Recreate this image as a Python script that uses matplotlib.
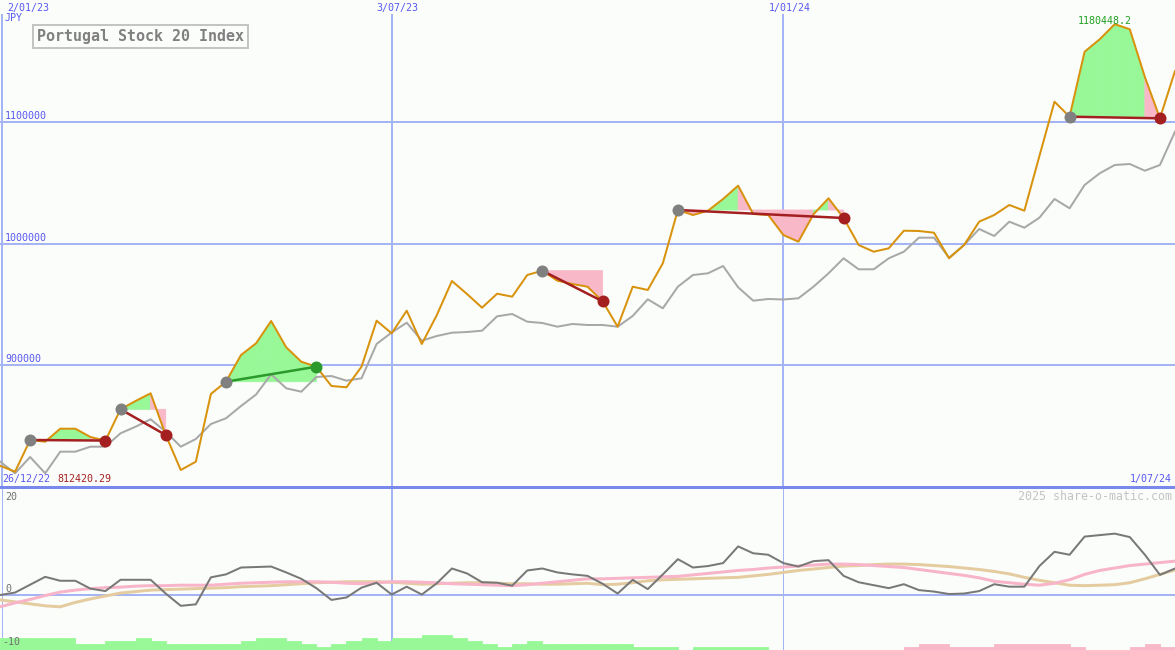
import matplotlib
matplotlib.use("Agg")
import matplotlib.pyplot as plt
from matplotlib.lines import Line2D
from matplotlib.patches import Rectangle

# weekly points, 0 = 2/01/23
weeks = list(range(79))
index_close = [
    817340, 812420.29, 838480, 837080, 847770, 847770, 840940, 838000, 863720, 870550,
    876880, 842590, 813800, 820630, 876310, 886420, 908380, 918000, 936340, 914710,
    902870, 898760, 882890, 881820, 898760, 936590, 926230, 944810, 917430, 941280,
    969240, 958550, 947280, 958790, 956330, 974170, 977710, 969490, 966770, 964550,
    952540, 931660, 964550, 961840, 983800, 1027630, 1023520, 1027050, 1036680, 1047610,
    1024340, 1023520, 1007070, 1001560, 1024090, 1037250, 1021050, 998840, 993330, 996130,
    1010600, 1010360, 1008960, 987910, 998840, 1018010, 1023520, 1031740, 1027050, 1072040,
    1116690, 1104360, 1157810, 1168010, 1180448.2, 1176240, 1137010, 1103040, 1141940]
moving_avg = [
    820790, 811090, 824500, 811090, 828860, 828860, 832970, 832970, 843990, 849410,
    855500, 845300, 832970, 839300, 851640, 856320, 866440, 875900, 892510, 881000,
    878200, 890290, 891110, 887250, 889220, 917430, 926890, 934940, 920140, 924010,
    926720, 927300, 928360, 940210, 942100, 935770, 934700, 931660, 933880, 933050,
    933050, 931660, 940450, 954190, 946790, 964550, 974170, 975570, 981570, 964060,
    953040, 954440, 954020, 955010, 964550, 975570, 987910, 978860, 978860, 987910,
    993330, 1004850, 1004850, 988400, 998840, 1012000, 1006250, 1018010, 1013070, 1021300,
    1036680, 1029030, 1048190, 1057810, 1064640, 1065460, 1059950, 1064640, 1092020]
momentum = [
    0, 0.5, 2.1, 3.7, 2.9, 2.9, 1.3, 0.8, 3.1, 3.1,
    3.1, 0.3, -2.2, -1.9, 3.6, 4.2, 5.6, 5.7, 5.8, 4.6,
    3.3, 1.4, -1.0, -0.5, 1.5, 2.5, 0.1, 1.7, 0.1, 2.4,
    5.4, 4.4, 2.6, 2.5, 1.9, 5.0, 5.4, 4.6, 4.2, 3.9,
    2.3, 0.3, 3.1, 1.2, 4.2, 7.3, 5.6, 5.9, 6.5, 9.9,
    8.5, 8.2, 6.5, 5.8, 6.9, 7.1, 3.9, 2.6, 2.0, 1.4,
    2.2, 1.0, 0.7, 0.2, 0.3, 0.8, 2.2, 1.7, 1.7, 5.9,
    8.8, 8.2, 11.9, 12.2, 12.5, 11.8, 8.2, 4.1, 5.4]
signal_fast = [
    -2.4, -1.6, -0.9, -0.1, 0.6, 1.0, 1.3, 1.5, 1.6, 1.8,
    1.9, 1.9, 2.0, 2.0, 2.0, 2.2, 2.4, 2.5, 2.6, 2.7,
    2.7, 2.7, 2.6, 2.4, 2.3, 2.5, 2.7, 2.7, 2.6, 2.5,
    2.3, 2.2, 2.1, 2.0, 1.9, 2.1, 2.4, 2.7, 3.0, 3.3,
    3.3, 3.4, 3.5, 3.6, 3.7, 3.8, 4.1, 4.4, 4.7, 5.0,
    5.2, 5.5, 5.7, 5.9, 6.1, 6.3, 6.3, 6.2, 6.0, 5.8,
    5.6, 5.2, 4.8, 4.4, 4.0, 3.5, 2.8, 2.5, 2.2, 2.0,
    2.4, 3.1, 4.2, 5.0, 5.5, 6.0, 6.3, 6.6, 6.9]
signal_slow = [
    -1.0, -1.4, -1.8, -2.2, -2.4, -1.5, -0.8, -0.2, 0.4, 0.7,
    1.0, 1.1, 1.2, 1.3, 1.4, 1.5, 1.7, 1.8, 1.9, 2.1,
    2.3, 2.5, 2.6, 2.7, 2.7, 2.7, 2.6, 2.4, 2.2, 2.3,
    2.4, 2.5, 2.5, 2.4, 2.3, 2.3, 2.2, 2.2, 2.3, 2.4,
    2.1, 2.2, 2.5, 2.9, 3.1, 3.2, 3.3, 3.4, 3.5, 3.6,
    3.9, 4.2, 4.6, 5.0, 5.3, 5.6, 5.9, 6.0, 6.2, 6.3,
    6.3, 6.2, 6.0, 5.8, 5.5, 5.2, 4.8, 4.3, 3.6, 3.0,
    2.5, 2.0, 1.9, 2.0, 2.1, 2.5, 3.3, 4.2, 5.1]
# one bar per week interval, sign = colour
volume_bars = [4, 4, 4, 4, 4, 2, 2, 3, 3, 4, 3, 2, 2, 2, 2, 2, 3, 4, 4, 3,
               2, 1, 2, 3, 4, 3, 4, 4, 5, 5, 4, 3, 2, 1, 2, 3, 2, 2, 2, 2,
               2, 2, 1, 1, 1, 0, 1, 1, 1, 1, 1, 0, 0, 0, 0, 0, 0, 0, 0, 0,
               -1, -2, -2, -1, -1, -1, -2, -2, -2, -2, -2, -1, 0, 0, 0, -1, -2, -1]
trades = [(2, 7), (8, 11), (15, 21), (36, 40), (45, 56), (71, 77)]
date_ticks = [0, 26, 52]
date_labels = ["2/01/23", "3/07/23", "1/01/24"]
price_levels = [900000, 1000000, 1100000]
start_label, end_label = "26/12/22", "1/07/24"

BG = '#fbfdfa'
GRID = '#a4b4f4'
BLUE_TXT = '#5858f0'
PX = 0.72  # one pixel in points

fig = plt.figure(figsize=(11.75, 6.5), dpi=100, facecolor=BG)
ax = fig.add_axes([0, 163 / 650, 1, 487 / 650])
ax2 = fig.add_axes([0, 0, 1, 163 / 650])
for a in (ax, ax2):
    a.set_facecolor(BG)
    a.axis('off')
    a.set_xlim(0, 78)

ax.set_ylim(799820, 1200330)
ax2.set_ylim(-11.2, 22.0)

# grid
for lvl in price_levels:
    ax.axhline(lvl, color=GRID, lw=2 * PX, zorder=1)
for t in date_ticks[1:]:
    ax.axvline(t, ymax=0.969, color=GRID, lw=2 * PX, zorder=1)
ax.axvline(0.13, ymax=0.969, color=GRID, lw=2 * PX, zorder=1)

# trade fills
for a_i, b_i in trades:
    level = index_close[a_i]
    for k in range(a_i, b_i):
        col = '#98f898' if index_close[k + 1] >= level else '#f8b8c8'
        ax.fill([k, k, k + 1, k + 1],
                [level, index_close[k], index_close[k + 1], level],
                facecolor=col, edgecolor=col, lw=0.6, zorder=2)

ax.plot(weeks, moving_avg, color='#a8a8a8', lw=2 * PX, zorder=3)
ax.plot(weeks, index_close, color='#d8920c', lw=2 * PX, zorder=4)

for a_i, b_i in trades:
    win = index_close[b_i] > index_close[a_i]
    col = '#2a9a2a' if win else '#a42020'
    ax.plot([a_i, b_i], [index_close[a_i], index_close[b_i]], color=col, lw=2.5 * PX, zorder=5)
    ax.plot(a_i, index_close[a_i], 'o', color='#808080', ms=12 * PX, mew=0, zorder=6)
    ax.plot(b_i, index_close[b_i], 'o', color=col, ms=12 * PX, mew=0, zorder=6)


def ftext(x, y, s, **kw):
    kw.setdefault('family', 'DejaVu Sans Mono')
    kw.setdefault('fontsize', 7.2)
    kw.setdefault('va', 'center')
    return fig.text(x / 1175, 1 - y / 650, s, **kw)


# labels
for t, lab in zip(date_ticks, date_labels):
    if t == 0:
        ftext(7, 8, lab, color=BLUE_TXT, ha='left')
    else:
        ftext(t * 15.07 + 6, 8, lab, color=BLUE_TXT, ha='center')
ftext(5, 18, "JPY", color=BLUE_TXT)
for lvl in price_levels:
    ypix = 122 + (1100000 - lvl) / 822.4
    ftext(5, ypix - 6, str(lvl), color=BLUE_TXT)
ftext(2, 479, start_label, color=BLUE_TXT)
lo = min(index_close)
hi = max(index_close)
ftext(57, 479, f"{lo:.2f}", color='#a42020')
ftext(1172, 479, end_label, color=BLUE_TXT, ha='right')
hi_i = index_close.index(hi)
ftext(hi_i * 15.07 - 10, 21, f"{hi:.1f}", color='#20a020', ha='center')

fig.add_artist(Rectangle((33 / 1175, 1 - 48 / 650), 215 / 1175, 23 / 650,
                         transform=fig.transFigure, facecolor=BG,
                         edgecolor='#c4c4c4', lw=2 * PX, zorder=8))
ftext(37, 37, "Portugal Stock 20 Index", color='#808080', fontsize=10.8,
      fontweight='bold', zorder=9)

# lower panel
ax2.axhline(0, color=GRID, lw=2 * PX, zorder=1)
ax2.axvline(date_ticks[1], color=GRID, lw=2 * PX, zorder=1)
ax2.axvline(date_ticks[2], color=GRID, lw=1 * PX, zorder=1)
ax2.axvline(0.13, color=GRID, lw=1 * PX, zorder=1)
bottom = -11.2
for k, v in enumerate(volume_bars):
    if v == 0:
        continue
    col = '#98f898' if v > 0 else '#f8b8c8'
    ax2.bar(k, abs(v) * 0.61, width=1, bottom=bottom, align='edge',
            facecolor=col, edgecolor=col, lw=0.6, zorder=2)
ax2.plot(weeks, signal_slow, color='#e4cca0', lw=3 * PX, zorder=3)
ax2.plot(weeks, signal_fast, color='#f8b4c8', lw=3 * PX, zorder=3)
ax2.plot(weeks, momentum, color='#787878', lw=2 * PX, zorder=4)

fig.add_artist(Line2D([0, 1], [1 - 487 / 650] * 2, transform=fig.transFigure,
                      color='#7888ec', lw=3 * PX, zorder=10))

ftext(5, 497, "20", color='#707070')
ftext(5, 589, "0", color='#707070')
ftext(2, 642, "-10", color='#707070')
ftext(1172, 496, "2025 share-o-matic.com", color='#c4c4c4', ha='right', fontsize=8.4)

fig.savefig("out.png", dpi=100, facecolor=BG)
